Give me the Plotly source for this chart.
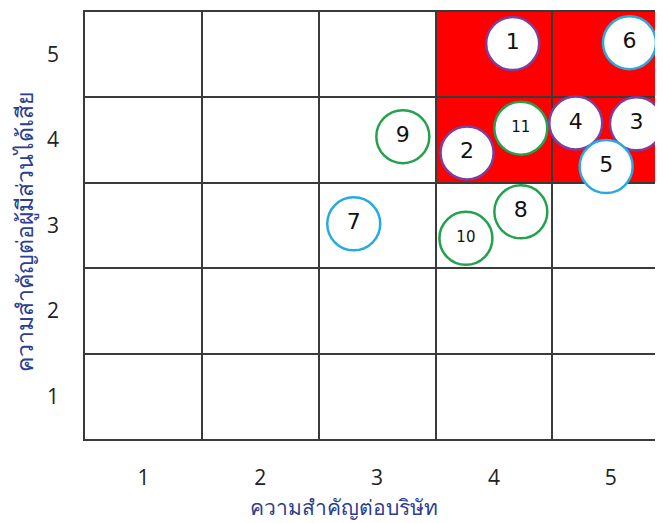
import plotly.graph_objects as go

# Data
labels = ["1", "2", "3", "4", "5", "6", "7", "8", "9", "10", "11"]
x_vals = [4.16, 3.77, 5.22, 4.70, 4.96, 5.16, 2.80, 4.23, 3.22, 3.76, 4.23]
y_vals = [5.13, 3.85, 4.19, 4.20, 3.69, 5.14, 3.02, 3.16, 4.04, 2.85, 4.14]
groups = ["purple", "purple", "purple", "purple", "blue", "blue", "blue",
          "green", "green", "green", "green"]
tick_vals = [1, 2, 3, 4, 5]
tick_text = ["1", "2", "3", "4", "5"]
cell_edges = [0.5, 1.5, 2.5, 3.5, 4.5, 5.5]
x_title = "ความสำคัญต่อบริษัท"
y_title = "ความสำคัญต่อผู้มีส่วนได้เสีย"

group_colors = {"purple": "#7B3FA0", "blue": "#27AAE1", "green": "#23A24D"}
line_colors = [group_colors[g] for g in groups]
text_sizes = [15 if len(t) > 1 else 22 for t in labels]

fig = go.Figure()
fig.add_trace(go.Scatter(
    x=x_vals, y=y_vals, mode="markers+text", text=labels,
    textposition="middle center",
    textfont=dict(size=text_sizes, color="#111111", family="DejaVu Sans"),
    marker=dict(size=53, color="white", line=dict(color=line_colors, width=2.5)),
    hoverinfo="skip", showlegend=False,
))

# Red high-priority zone
fig.add_shape(type="rect", x0=3.5, x1=5.5, y0=3.5, y1=5.5,
              fillcolor="#FF0000", line=dict(width=0), layer="below")

axis_common = dict(
    tickvals=tick_vals, ticktext=tick_text, showgrid=False, zeroline=False,
    ticks="outside", tickcolor="rgba(0,0,0,0)",
    tickfont=dict(size=21, color="#222222", family="Open Sans"),
    showline=True, linecolor="#3a3a3a", linewidth=1.5, mirror=True,
    minor=dict(tickvals=cell_edges, showgrid=True, gridcolor="#3a3a3a",
               gridwidth=1.5, ticks=""),
)
fig.update_xaxes(range=[0.5, 0.5 + 578 / 117.25], ticklen=19, **axis_common)
fig.update_yaxes(range=[0.5, 5.5], ticklen=20, **axis_common)

fig.add_annotation(text=x_title, xref="paper", yref="paper", x=0.45, y=-0.160,
                   xanchor="center", yanchor="middle",
                   showarrow=False, font=dict(size=21, color="#2B3E8F"))
fig.add_annotation(text=y_title, xref="paper", yref="paper", x=-0.106, y=0.485,
                   xanchor="center", yanchor="middle",
                   showarrow=False, textangle=-90,
                   font=dict(size=23, color="#2B3E8F"))

fig.update_layout(
    width=655, height=515,
    margin=dict(l=77, r=0, t=4, b=84),
    plot_bgcolor="white", paper_bgcolor="white",
)
fig.write_html("out.html")
